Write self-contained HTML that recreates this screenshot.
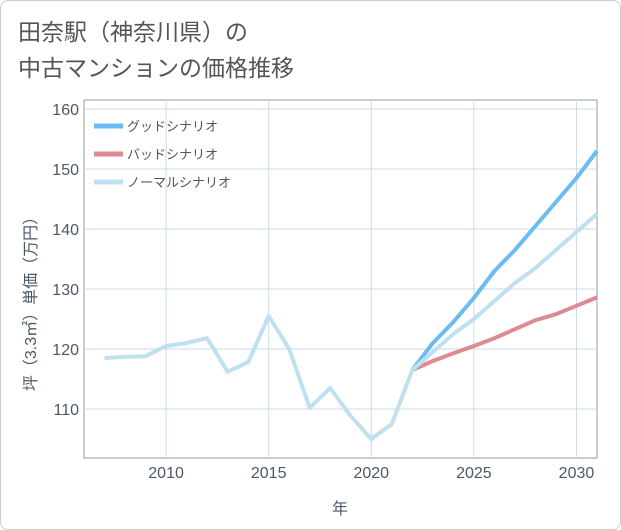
<!DOCTYPE html>
<html><head><meta charset="utf-8"><style>
body{margin:0;background:#fff;font-family:"Liberation Sans","Noto Sans CJK JP",sans-serif}
#wrap{position:relative;width:619px;height:528px;border:1px solid #ccc;border-radius:8px;overflow:hidden}
</style></head><body>
<div id="wrap">
<svg id="chart" width="621" height="530" style="position:absolute;left:-1px;top:-1px"></svg>
</div>
<script>
const years=[2007,2008,2009,2010,2011,2012,2013,2014,2015,2016,2017,2018,2019,2020,2021,2022];
const histValues=[118.5,118.7,118.8,120.5,121,121.8,116.2,117.8,125.5,120,110.2,113.5,108.8,105,107.5,116.5];
const futureYears=[2022,2023,2024,2025,2026,2027,2028,2029,2030,2031];
const goodValues=[116.5,121,124.5,128.5,133,136.5,140.5,144.5,148.5,153];
const badValues=[116.5,118,119.3,120.5,121.8,123.3,124.8,125.8,127.2,128.6];
const normalValues=[116.5,119.5,122.5,125,128,131,133.5,136.5,139.5,142.5];
const xTicks=[2010,2015,2020,2025,2030];
const yTicks=[110,120,130,140,150,160];
const svg=document.getElementById('chart');
const NS='http://www.w3.org/2000/svg';
const L=84,R=597,T=100,B=458;
const x=v=>L+(v-2006)*(R-L)/25;
const y=v=>409-(v-110)*6;
function mk(t,a){const e=document.createElementNS(NS,t);for(const k in a)e.setAttribute(k,a[k]);svg.appendChild(e);return e;}
function txt(s,a){const e=mk('text',a);e.textContent=s;return e;}
let e;
e=txt('田奈駅（神奈川県）の',{x:18,y:40,'font-size':23,fill:'#555'});

e=txt('中古マンションの価格推移',{x:18,y:76,'font-size':23,fill:'#555'});

e=mk('rect',{x:L,y:T,width:R-L,height:B-T,fill:'#fff',stroke:'#999','stroke-width':1});

xTicks.forEach(t=>{
 e=mk('line',{x1:x(t),x2:x(t),y1:T,y2:B,stroke:'#cddbe6'});
 
 e=txt(t,{x:x(t),y:478,'font-size':16,fill:'#4d5866','text-anchor':'middle'});
 
});
yTicks.forEach(t=>{
 e=mk('line',{x1:L,x2:R,y1:y(t),y2:y(t),stroke:'#cddbe6'});
 
 e=txt(t,{x:79,y:y(t)+6,'font-size':16,fill:'#4d5866','text-anchor':'end'});
 
});
e=txt('年',{x:340,y:514,'font-size':16,fill:'#4d5866','text-anchor':'middle'});

e=txt('坪（3.3㎡）単価（万円）',{x:0,y:0,'font-size':16,fill:'#4d5866','text-anchor':'middle',transform:'translate(36,300) rotate(-90)'});

function line(xs,vs,color,name){
 const p=xs.map((t,i)=>x(t)+','+y(vs[i])).join(' ');
 const el=mk('polyline',{points:p,fill:'none',stroke:color,'stroke-width':4,'stroke-linejoin':'round'});
 
 
}
line(futureYears,goodValues,'#6bbcf3','good-scenario-line');
line(futureYears,badValues,'#dd8a90','bad-scenario-line');
line(futureYears,normalValues,'#bfe0ee','normal-scenario-line');
line(years,histValues,'#bfe0ee','historical-price-line');
const legNames=['グッドシナリオ','バッドシナリオ','ノーマルシナリオ'];
const legColors=['#6bbcf3','#dd8a90','#bfe0ee'];
legNames.forEach((n,i)=>{
 const yy=126+i*28;
 e=mk('line',{x1:94,x2:123,y1:yy,y2:yy,stroke:legColors[i],'stroke-width':5});
 
 e=txt(n,{x:127,y:yy+5,'font-size':13,fill:'#555'});
 
});
</script>
</body></html>
